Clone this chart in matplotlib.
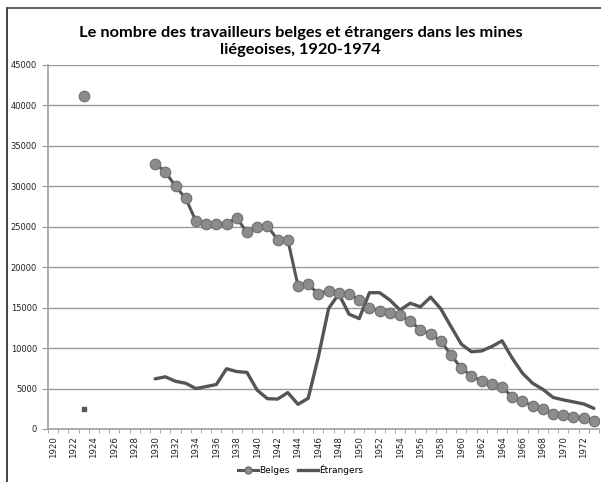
import numpy as np
import matplotlib.pyplot as plt
from matplotlib.lines import Line2D

# Données
annees = list(range(1920, 1974))

annees_belges = [1923] + list(range(1930, 1974))
belges = [41200,
          32800, 31800, 30000, 28500, 25700, 25400, 25400, 25400, 26100, 24300,
          25000, 25100, 23400, 23400, 17700, 17900, 16700, 17100, 16850, 16700,
          16000, 15000, 14600, 14400, 14100, 13300, 12300, 11700, 10900, 9150,
          7500, 6600, 5900, 5550, 5150, 4000, 3400, 2850, 2500, 1850,
          1750, 1500, 1400, 1000]

annees_etr = [1923] + list(range(1930, 1974))
etrangers = [2500,
             6200, 6450, 5900, 5650, 5000, 5250, 5500, 7450, 7100, 7000,
             4800, 3750, 3700, 4500, 3050, 3800, 8950, 14900, 16700, 14200,
             13650, 16850, 16850, 15950, 14700, 15550, 15100, 16300, 14850, 12650,
             10500, 9550, 9650, 10200, 10900, 8750, 6900, 5650, 4900, 3900,
             3600, 3350, 3100, 2550]

titre = "Le nombre des travailleurs belges et étrangers dans les mines\nliégeoises, 1920-1974"
y_ticks = list(range(0, 45001, 5000))

gris_ligne = '#555555'

fig = plt.figure(figsize=(6.01, 4.82), dpi=100)
ax = fig.add_axes([48 / 601, 53 / 482, 551 / 601, 364 / 482])

# séparer le point isolé de 1923 du reste
ax.plot(annees_etr[1:], etrangers[1:], color=gris_ligne, lw=2.4, zorder=3,
        solid_capstyle='round')
ax.plot([annees_etr[0]], [etrangers[0]], marker='s', ms=2.5, color=gris_ligne,
        ls='none', zorder=3)

ax.plot(annees_belges[1:], belges[1:], color=gris_ligne, lw=2.2, zorder=4,
        marker='o', ms=7.6, mfc='#8c8c8c', mec='#6e6e6e', mew=0.8)
ax.plot([annees_belges[0]], [belges[0]], ls='none', marker='o', ms=7.6,
        mfc='#8c8c8c', mec='#6e6e6e', mew=0.8, zorder=4)

ax.set_xlim(annees[0] - 0.5, annees[-1] + 0.5)
ax.set_ylim(0, 45000)
ax.set_yticks(y_ticks)
ax.set_yticklabels([str(v) for v in y_ticks], fontsize=6, color='#222222')
ax.yaxis.grid(True, color='#9a9a9a', lw=1)
ax.set_axisbelow(True)

ax.set_xticks([a for a in annees if a % 2 == 0])
ax.set_xticklabels([str(a) for a in annees if a % 2 == 0], rotation=90,
                   fontsize=6.2, color='#222222')
ax.set_xticks([a - 0.5 for a in annees] + [annees[-1] + 0.5], minor=True)
ax.tick_params(axis='x', which='major', length=0, pad=5)
ax.tick_params(axis='x', which='minor', length=3, color='#999999')
ax.tick_params(axis='y', length=4, color='#999999', pad=4)

for s in ['top', 'right']:
    ax.spines[s].set_visible(False)
for s in ['left', 'bottom']:
    ax.spines[s].set_color('#a0a0a0')
    ax.spines[s].set_linewidth(1.2)

fig.text(0.50, 1 - 57 / 482, titre, ha='center', va='bottom', fontsize=11.8,
         fontweight='bold', family='Lato', linespacing=1.25)

handles = [Line2D([], [], color=gris_ligne, lw=2.2, marker='o', ms=5,
                  mfc='#8c8c8c', mec='#6e6e6e'),
           Line2D([], [], color=gris_ligne, lw=2.4)]
fig.legend(handles, ['Belges', 'Étrangers'], loc='center',
           bbox_to_anchor=(0.5, 0.025), ncol=2, frameon=False, fontsize=6.5,
           handlelength=2.2, handletextpad=0.1, columnspacing=1.0)

# cadre du graphique (bords gauche et haut)
fig.add_artist(Line2D([7 / 601, 7 / 601], [0, 1 - 8 / 482], color='#222222',
                      lw=1.2, transform=fig.transFigure))
fig.add_artist(Line2D([7 / 601, 1], [1 - 8 / 482, 1 - 8 / 482], color='#444444',
                      lw=1.2, transform=fig.transFigure))

fig.savefig('out.png', dpi=100, facecolor='white')
